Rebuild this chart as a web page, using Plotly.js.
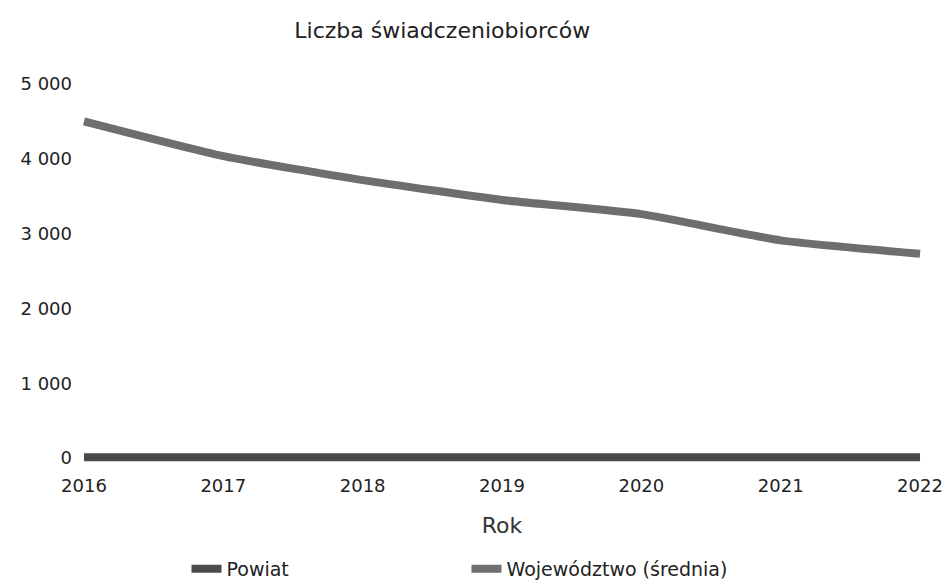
<!DOCTYPE html>
<html>
<head>
<meta charset="utf-8">
<script src="https://cdn.plot.ly/plotly-3.0.1.min.js"></script>
<style>html,body{margin:0;padding:0;background:#fff;}#chart{width:949px;height:584px;}</style>
</head>
<body>
<div id="chart"></div>
<script>
const years = [2016, 2017, 2018, 2019, 2020, 2021, 2022];
const powiat = [10, 10, 10, 10, 10, 10, 10];
const wojewodztwo = [4500, 4035, 3715, 3450, 3260, 2910, 2730];
const yTickVals = [0, 1000, 2000, 3000, 4000, 5000];
const yTickText = ["0", "1 000", "2 000", "3 000", "4 000", "5 000"];
const seriesNames = ["Powiat", "Województwo (średnia)"];

const font = "DejaVu Sans, Verdana, sans-serif";
const traces = [
  {x: years, y: powiat, name: seriesNames[0], type: "scatter", mode: "lines",
   line: {color: "#4a4a4a", width: 8, shape: "spline", smoothing: 0.5}},
  {x: years, y: wojewodztwo, name: seriesNames[1], type: "scatter", mode: "lines",
   line: {color: "#6e6e6e", width: 8, shape: "spline", smoothing: 0.5}}
];
const layout = {
  width: 949, height: 584,
  paper_bgcolor: "#fff", plot_bgcolor: "#fff",
  margin: {l: 77, r: 22, t: 84, b: 120, autoexpand: false},
  font: {family: font, color: "#222", size: 18},
  title: {text: "Liczba świadczeniobiorców", x: 0.466, xanchor: "center", y: 0.948, yanchor: "middle",
          font: {family: font, size: 22, color: "#222"}},
  xaxis: {range: [2015.95, 2022.05], tickvals: years, ticktext: years.map(String),
          showgrid: false, zeroline: false, showline: false, ticks: "",
          tickfont: {size: 18, color: "#222"}, ticklabelstandoff: 9,
          title: {text: "Rok", font: {size: 22, color: "#333"}, standoff: 22}},
  yaxis: {range: [-80, 5000], tickvals: yTickVals, ticktext: yTickText,
          showgrid: false, zeroline: false, showline: false, ticks: "",
          tickfont: {size: 18, color: "#222"}, ticklabelstandoff: 4},
  showlegend: true,
  legend: {orientation: "h", xref: "container", yref: "container",
           x: 0.1965, xanchor: "left", y: 0.026, yanchor: "middle",
           entrywidth: 235, entrywidthmode: "pixels", itemwidth: 30,
           font: {size: 19, color: "#222"}}
};
Plotly.newPlot("chart", traces, layout, {displayModeBar: false, staticPlot: true});
</script>
</body>
</html>
